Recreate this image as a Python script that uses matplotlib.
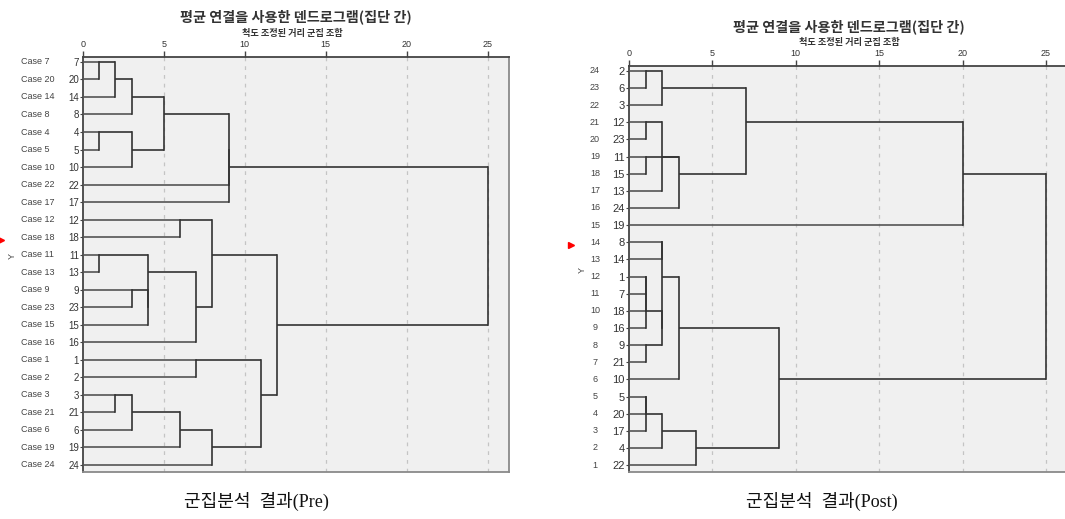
import math
import matplotlib
matplotlib.use("Agg")
import matplotlib.pyplot as plt
from matplotlib.lines import Line2D
from matplotlib.transforms import blended_transform_factory

plt.rcParams['font.family'] = ['Liberation Sans', 'Noto Sans CJK KR', 'DejaVu Sans']

# ---------------- data ----------------
title_text = "평균 연결을 사용한 덴드로그램(집단 간)"
subtitle_text = "척도 조정된 거리 군집 조합"
x_ticks = [0, 5, 10, 15, 20, 25]

# Pre: leaf order (top -> bottom)
pre_order = [7, 20, 14, 8, 4, 5, 10, 22, 17, 12, 18, 11, 13, 9, 23, 15, 16,
             1, 2, 3, 21, 6, 19, 24]
pre_outer = ["Case %d" % c for c in pre_order]
# merges: (child_a, child_b, rescaled distance); "#k" = result of merge k
pre_merges = [
    (7, 20, 1), ("#0", 14, 2), ("#1", 8, 3),            # 0,1,2
    (4, 5, 1), ("#3", 10, 3),                           # 3,4
    ("#2", "#4", 5), ("#5", 22, 9), ("#6", 17, 9),      # 5,6,7
    (12, 18, 6),                                        # 8
    (11, 13, 1), (9, 23, 3), ("#10", 15, 4),            # 9,10,11
    ("#9", "#11", 4), ("#12", 16, 7), ("#8", "#13", 8), # 12,13,14
    (1, 2, 7),                                          # 15
    (3, 21, 2), ("#16", 6, 3), ("#17", 19, 6), ("#18", 24, 8),  # 16-19
    ("#15", "#19", 11), ("#14", "#20", 12),             # 20,21
    ("#7", "#21", 25),                                  # 22
]

# Post
post_order = [2, 6, 3, 12, 23, 11, 15, 13, 24, 19, 8, 14, 1, 7, 18, 16, 9,
              21, 10, 5, 20, 17, 4, 22]
post_outer = [str(v) for v in range(24, 0, -1)]
post_merges = [
    (2, 6, 1), ("#0", 3, 2),                            # 0,1
    (12, 23, 1), ("#2", 13, 2), (11, 15, 1),            # 2,3,4
    ("#3", "#4", 3), ("#5", 24, 3), ("#1", "#6", 7),    # 5,6,7
    ("#7", 19, 20),                                     # 8
    (1, 7, 1), ("#9", 18, 1), ("#10", 16, 1),           # 9,10,11
    (9, 21, 1), ("#11", "#12", 2), (8, 14, 2),          # 12,13,14
    ("#14", "#13", 2), ("#15", 10, 3),                  # 15,16
    (5, 20, 1), ("#17", 17, 1), ("#18", 4, 2), ("#19", 22, 4),  # 17-20
    ("#16", "#20", 9), ("#8", "#21", 25),               # 21,22
]

W, H = 1065, 519
fig = plt.figure(figsize=(W / 100, H / 100), dpi=100)


def fx(px):
    return px / W


def fy(py):
    return 1 - py / H


LINE_DARK = '#333333'
LINE_LEAF = '#555555'


def draw_dendro(ax, order, merges):
    pos = {leaf: float(i) for i, leaf in enumerate(order)}
    hgt = {leaf: 0.0 for leaf in order}
    for k, (a, b, h) in enumerate(merges):
        ya, yb = pos[a], pos[b]
        for child, y in ((a, ya), (b, yb)):
            col = LINE_LEAF if not isinstance(child, str) else LINE_DARK
            ax.plot([hgt[child], h], [y, y], color=col, lw=1.2,
                    solid_capstyle='butt', zorder=3)
        ax.plot([h, h], [ya, yb], color=LINE_DARK, lw=1.2, zorder=3)
        key = "#%d" % k
        pos[key] = float(math.floor((ya + yb) / 2))
        hgt[key] = h


def setup_axes(rect, order, merges, xmax, inner_size):
    ax = fig.add_axes(rect)
    ax.set_facecolor('#f0f0f0')
    n = len(order)
    top_pad = 0.28
    ax.set_ylim(n - 1 + 0.4, -top_pad)
    ax.set_xlim(0, xmax)
    for t in x_ticks[1:]:
        ax.axvline(t, color='#c4c4c4', lw=0.9, ls=(0, (3, 4)), zorder=1)
    draw_dendro(ax, order, merges)
    ax.xaxis.tick_top()
    ax.set_xticks(x_ticks)
    ax.set_xticklabels([str(t) for t in x_ticks])
    ax.tick_params(axis='x', top=True, bottom=False, length=4, width=1.0,
                   color='#444444', labelsize=6.5, pad=2, labelcolor='#333333')
    ax.set_yticks(range(n))
    ax.set_yticklabels([str(v) for v in order])
    ax.tick_params(axis='y', left=True, length=2, width=0.8, color='#444444',
                   labelsize=inner_size, pad=1, labelcolor='#333333')
    ax.spines['top'].set_color('#444444')
    ax.spines['top'].set_linewidth(1.3)
    ax.spines['left'].set_color('#444444')
    ax.spines['left'].set_linewidth(1.3)
    ax.spines['bottom'].set_color('#8a8a8a')
    ax.spines['bottom'].set_linewidth(1.3)
    ax.spines['right'].set_color('#8a8a8a')
    ax.spines['right'].set_linewidth(1.3)
    return ax


# ---------- left (Pre) ----------
left_rect = [fx(83), fy(472), fx(509 - 83), (472 - 57) / H]
pre_xmax = (509 - 83) / 16.18
axL = setup_axes(left_rect, pre_order, pre_merges, pre_xmax, 7)
trL = blended_transform_factory(fig.transFigure, axL.transData)
for i, lab in enumerate(pre_outer):
    axL.text(fx(21), i, lab, transform=trL, ha='left', va='center',
             fontsize=6.5, color='#444444')

# ---------- right (Post) ----------
right_rect = [fx(629), fy(472), fx(1065 - 629), (472 - 66) / H]
post_xmax = (1065 - 629.3) / 16.67
axR = setup_axes(right_rect, post_order, post_merges, post_xmax, 8)
axR.spines['right'].set_visible(False)
trR = blended_transform_factory(fig.transFigure, axR.transData)
for i, lab in enumerate(post_outer):
    axR.text(fx(595), i, lab, transform=trR, ha='center', va='center',
             fontsize=6.5, color='#444444')

# ---------- titles ----------
kfam = ['Noto Sans CJK KR', 'DejaVu Sans']
fig.text(fx(296), fy(17), title_text, ha='center', va='center',
         fontsize=10.2, fontweight='bold', family=kfam, color='#333333')
fig.text(fx(292), fy(33), subtitle_text, ha='center', va='center',
         fontsize=6.6, fontweight='bold', family=kfam, color='#333333')
fig.text(fx(849), fy(27), title_text, ha='center', va='center',
         fontsize=10.2, fontweight='bold', family=kfam, color='#333333')
fig.text(fx(849), fy(42.5), subtitle_text, ha='center', va='center',
         fontsize=6.6, fontweight='bold', family=kfam, color='#333333')

# axis name "Y"
fig.text(fx(12), fy(256), "Y", rotation=90, ha='center', va='center',
         fontsize=6.5, color='#444444')
fig.text(fx(582), fy(270), "Y", rotation=90, ha='center', va='center',
         fontsize=6.5, color='#444444')

# red selection markers
for (px, py) in ((1.0, 240), (570.5, 245)):
    fig.add_artist(Line2D([fx(px)], [fy(py)], marker='>', color='red',
                          markersize=4, transform=fig.transFigure, lw=0))

# captions
cfam = ['Liberation Serif', 'Noto Sans CJK KR', 'DejaVu Serif']
fig.text(fx(256), fy(501), "군집분석  결과(Pre)", ha='center', va='center',
         fontsize=13, family=cfam, color='#111111')
fig.text(fx(822), fy(501), "군집분석  결과(Post)", ha='center', va='center',
         fontsize=13, family=cfam, color='#111111')

fig.savefig("out.png", dpi=100)
